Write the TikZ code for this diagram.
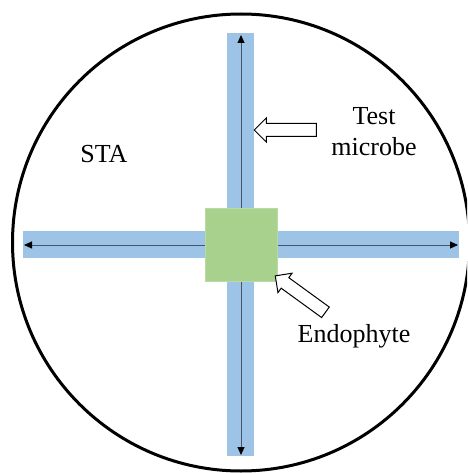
\documentclass[tikz,border=0pt]{standalone}
\usepackage{fontspec}
\setmainfont{LiberationSerif}[Extension=.ttf, UprightFont=*-Regular]
\usetikzlibrary{arrows.meta,shapes.arrows}
\definecolor{stripblue}{HTML}{9DC3E6}
\definecolor{plugreen}{HTML}{A9D18E}
\definecolor{axisgrey}{HTML}{44546A}
\tikzset{
  strip/.style={fill=stripblue, draw=none, inner sep=0pt},
  plug/.style={fill=plugreen, draw=plugreen!80!white, line width=0.6pt, inner sep=0pt,
               minimum width=72pt, minimum height=73pt},
  growth/.style={draw=axisgrey, line width=1pt, {Triangle[length=8pt,width=7pt,fill=black,color=black]}-{Triangle[length=8pt,width=7pt,fill=black,color=black]}},
  pointer/.style={single arrow, draw=black, fill=white, line width=1pt, inner sep=0pt,
                  inner ysep=6pt, minimum height=62pt, minimum width=23pt,
                  single arrow head extend=5.5pt, single arrow tip angle=90},
  caption/.style={font=\fontsize{26}{30}\selectfont, inner sep=0pt, anchor=base}
}
\begin{document}
\begin{tikzpicture}[x=1pt,y=-1pt]
  \useasboundingbox (0,0) rectangle (467,473);
  \begin{scope}
    \clip (0,0) rectangle (467,473);
    % Petri dish
    \draw[line width=3pt] (241,242.5) circle[radius=228.5pt];
  \end{scope}
  % streaks of the test microbe
  \node[strip, minimum width=27pt, minimum height=423pt] (vstrip) at (240.5,244.5) {};
  \node[strip, minimum width=436pt, minimum height=27pt] (hstrip) at (241,244.5) {};
  % direction of growth along the streaks
  \coordinate (top) at (241,35);
  \coordinate (bottom) at (241,455);
  \coordinate (left) at (24,245);
  \coordinate (right) at (458,245);
  \draw[growth] (top) -- (bottom);
  \draw[growth] (left) -- (right);
  % endophyte plug in the centre
  \node[plug] (plug) at (241,244.5) {};
  % labels
  \node[caption] (sta) at (104,163) {STA};
  \node[caption] (test) at (374,125) {Test};
  \node[caption] (microbe) at (374,155) {microbe};
  \node[caption] (endo) at (354,342) {Endophyte};
  % pointer arrows
  \node[pointer, rotate=180] (microbearrow) at (288.5,130) {};
  \node[pointer, rotate=144] (endoarrow) at (303,296) {};
\end{tikzpicture}
\end{document}
